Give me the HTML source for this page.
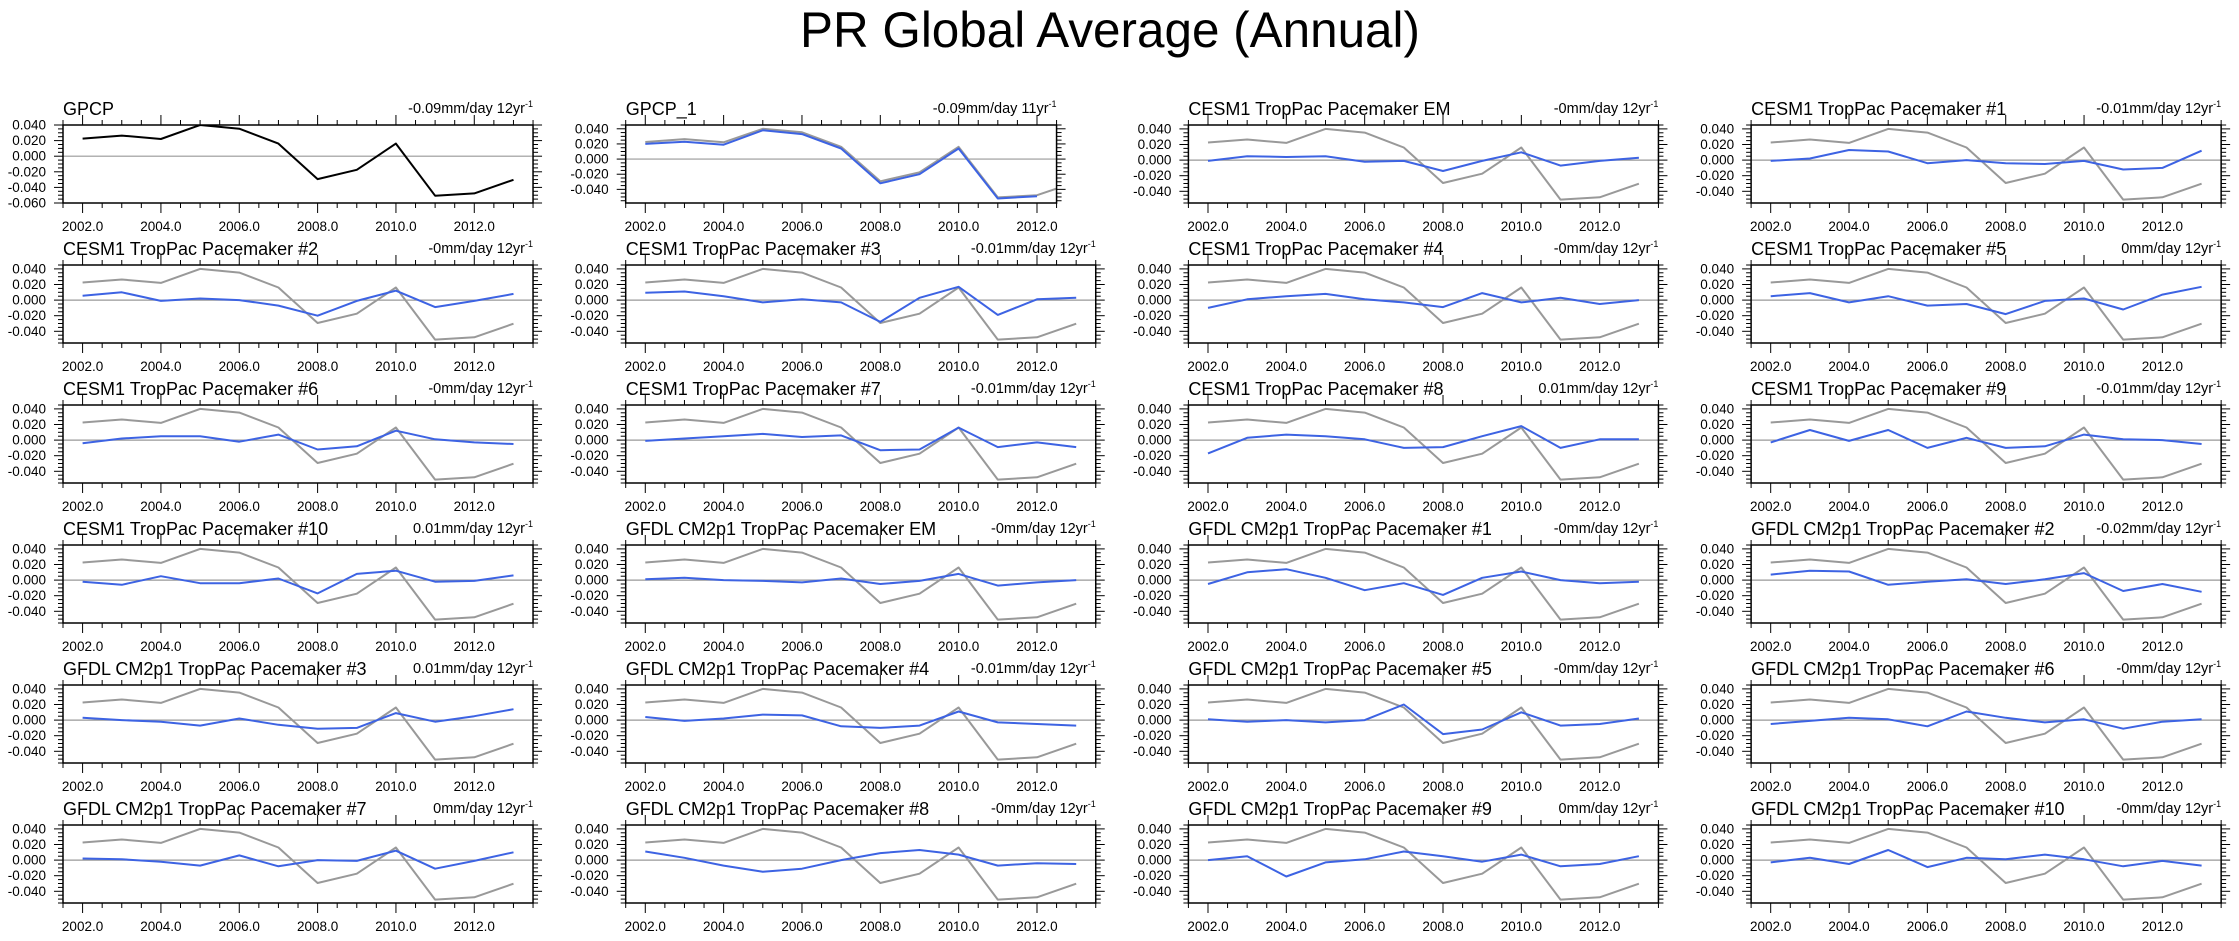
<!DOCTYPE html>
<html><head><meta charset="utf-8"><title>PR Global Average (Annual)</title>
<style>
html,body{margin:0;padding:0;background:#fff;}
svg{display:block;font-family:"Liberation Sans",Arial,sans-serif;}
</style></head>
<body>
<svg id="chart" width="2239" height="941" viewBox="0 0 2239 941" xmlns="http://www.w3.org/2000/svg">
<text x="1110" y="47" font-size="50" text-anchor="middle" textLength="620" lengthAdjust="spacingAndGlyphs">PR Global Average (Annual)</text>
<g id="panels"></g>
</svg>
<script>
const years = [2002,2003,2004,2005,2006,2007,2008,2009,2010,2011,2012,2013];
const obsSeries = [0.0226,0.0264,0.0221,0.0400,0.0353,0.0162,-0.0294,-0.0174,0.0162,-0.0506,-0.0477,-0.0302];
const panelTitles = [
 "GPCP","GPCP_1","CESM1 TropPac Pacemaker EM","CESM1 TropPac Pacemaker #1",
 "CESM1 TropPac Pacemaker #2","CESM1 TropPac Pacemaker #3","CESM1 TropPac Pacemaker #4","CESM1 TropPac Pacemaker #5",
 "CESM1 TropPac Pacemaker #6","CESM1 TropPac Pacemaker #7","CESM1 TropPac Pacemaker #8","CESM1 TropPac Pacemaker #9",
 "CESM1 TropPac Pacemaker #10","GFDL CM2p1 TropPac Pacemaker EM","GFDL CM2p1 TropPac Pacemaker #1","GFDL CM2p1 TropPac Pacemaker #2",
 "GFDL CM2p1 TropPac Pacemaker #3","GFDL CM2p1 TropPac Pacemaker #4","GFDL CM2p1 TropPac Pacemaker #5","GFDL CM2p1 TropPac Pacemaker #6",
 "GFDL CM2p1 TropPac Pacemaker #7","GFDL CM2p1 TropPac Pacemaker #8","GFDL CM2p1 TropPac Pacemaker #9","GFDL CM2p1 TropPac Pacemaker #10"];
const trendLabels = ["-0.09mm/day 12yr","-0.09mm/day 11yr","-0mm/day 12yr","-0.01mm/day 12yr",
 "-0mm/day 12yr","-0.01mm/day 12yr","-0mm/day 12yr","0mm/day 12yr",
 "-0mm/day 12yr","-0.01mm/day 12yr","0.01mm/day 12yr","-0.01mm/day 12yr",
 "0.01mm/day 12yr","-0mm/day 12yr","-0mm/day 12yr","-0.02mm/day 12yr",
 "0.01mm/day 12yr","-0.01mm/day 12yr","-0mm/day 12yr","-0mm/day 12yr",
 "0mm/day 12yr","-0mm/day 12yr","0mm/day 12yr","-0mm/day 12yr"];
const gpcp1Series = [0.020,0.023,0.019,0.038,0.033,0.014,-0.032,-0.020,0.014,-0.052,-0.049];
const cesmEM = [-0.001,0.005,0.004,0.005,-0.002,-0.001,-0.014,-0.001,0.010,-0.007,-0.001,0.003];
const cesm1 = [-0.001,0.002,0.013,0.011,-0.004,0,-0.004,-0.005,-0.001,-0.012,-0.010,0.012];
const cesm2 = [0.0056,0.010,-0.001,0.002,0,-0.007,-0.020,-0.001,0.012,-0.009,-0.001,0.008];
const cesm3 = [0.0094,0.011,0.005,-0.003,0.001,-0.003,-0.028,0.003,0.017,-0.019,0.001,0.003];
const cesm4 = [-0.010,0.001,0.005,0.008,0.001,-0.003,-0.009,0.009,-0.003,0.003,-0.005,0];
const cesm5 = [0.005,0.009,-0.003,0.005,-0.007,-0.005,-0.018,-0.001,0.002,-0.012,0.007,0.017];
const cesm6 = [-0.004,0.002,0.005,0.005,-0.002,0.007,-0.012,-0.008,0.012,0.001,-0.003,-0.005];
const cesm7 = [-0.001,0.002,0.005,0.008,0.004,0.006,-0.013,-0.012,0.016,-0.009,-0.003,-0.009];
const cesm8 = [-0.017,0.003,0.007,0.005,0.001,-0.010,-0.009,0.005,0.018,-0.010,0.001,0.001];
const cesm9 = [-0.003,0.013,-0.001,0.013,-0.010,0.003,-0.010,-0.008,0.007,0.001,0,-0.005];
const cesm10 = [-0.002,-0.006,0.005,-0.004,-0.004,0.002,-0.017,0.008,0.012,-0.002,-0.001,0.006];
const gfdlEM = [0.001,0.003,0,-0.001,-0.003,0.002,-0.005,-0.001,0.008,-0.007,-0.003,0];
const gfdl1 = [-0.005,0.010,0.014,0.003,-0.013,-0.004,-0.019,0.003,0.011,0,-0.004,-0.002];
const gfdl2 = [0.007,0.012,0.011,-0.006,-0.002,0.001,-0.005,0.001,0.009,-0.014,-0.005,-0.015];
const gfdl3 = [0.003,0,-0.002,-0.007,0.002,-0.006,-0.011,-0.010,0.009,-0.002,0.005,0.014];
const gfdl4 = [0.004,-0.001,0.002,0.007,0.006,-0.008,-0.010,-0.007,0.011,-0.003,-0.005,-0.007];
const gfdl5 = [0.001,-0.002,0,-0.003,0,0.020,-0.018,-0.012,0.010,-0.007,-0.005,0.002];
const gfdl6 = [-0.005,-0.001,0.003,0.001,-0.008,0.011,0.003,-0.003,0.001,-0.011,-0.002,0.001];
const gfdl7 = [0.002,0.001,-0.002,-0.007,0.006,-0.008,0,-0.001,0.012,-0.011,-0.001,0.010];
const gfdl8 = [0.011,0.003,-0.007,-0.015,-0.011,0,0.009,0.013,0.007,-0.007,-0.004,-0.005];
const gfdl9 = [0,0.005,-0.021,-0.003,0.001,0.011,0.005,-0.002,0.007,-0.008,-0.005,0.005];
const gfdl10 = [-0.003,0.003,-0.005,0.013,-0.009,0.003,0.001,0.007,0.001,-0.008,-0.001,-0.007];
const modelSeries = [null,gpcp1Series,cesmEM,cesm1,cesm2,cesm3,cesm4,cesm5,cesm6,cesm7,cesm8,cesm9,cesm10,gfdlEM,gfdl1,gfdl2,gfdl3,gfdl4,gfdl5,gfdl6,gfdl7,gfdl8,gfdl9,gfdl10];
const xTickLabels = ["2002.0","2004.0","2006.0","2008.0","2010.0","2012.0"];
const yTickLabelsObs = ["0.040","0.020","0.000","-0.020","-0.040","-0.060"];
const yTickLabels = ["0.040","0.020","0.000","-0.020","-0.040"];

const NS="http://www.w3.org/2000/svg";
const root=document.getElementById('panels');
function mk(tag,attrs,parent){const e=document.createElementNS(NS,tag);for(const k in attrs)e.setAttribute(k,attrs[k]);(parent||root).appendChild(e);return e;}

for(let i=0;i<24;i++){
  const col=i%4,row=Math.floor(i/4);
  const L=63+562.7*col, T=125+140*row, H=78;
  const xmin=2001.5, xmax=(i===1)?2012.5:2013.5;
  const W=(xmax-xmin)*39.17;
  let ymin=-0.055,ymax=0.045;
  if(i===0){ymin=-0.06;ymax=0.04;}
  if(i===1){ymin=-0.058;ymax=0.045;}
  const X=v=>L+(v-xmin)/(xmax-xmin)*W;
  const Y=v=>T+(ymax-v)/(ymax-ymin)*H;
  const g=mk('g',{});
  
  
  const cid='clip'+i;
  const cp=mk('clipPath',{id:cid},g);mk('rect',{x:L,y:T,width:W,height:H},cp);
  const t=mk('text',{x:L,y:T-10,'font-size':18},g);t.textContent=panelTitles[i];
  
  
  const tr=mk('text',{x:L+W,y:T-12,'font-size':14.5,'text-anchor':'end'},g);
  
  
  tr.appendChild(document.createTextNode(trendLabels[i]));
  const sp=mk('tspan',{'font-size':9,dy:-6},tr);sp.textContent='-1';
  const z=mk('line',{x1:L,x2:L+W,y1:Y(0),y2:Y(0),stroke:'#999','stroke-width':1.2},g);
  
  
  for(let v=xmin;v<=xmax+1e-6;v+=0.5){
    const major=Math.abs(v/2-Math.round(v/2))<1e-6 && v>=2002;
    const len=major?10:5;
    mk('line',{x1:X(v),x2:X(v),y1:T,y2:T-len,stroke:'#000','stroke-width':1},g);
    mk('line',{x1:X(v),x2:X(v),y1:T+H,y2:T+H+len,stroke:'#000','stroke-width':1},g);
  }
  xTickLabels.forEach((lab,k)=>{
    const v=2002+2*k; if(v>xmax) return;
    const e=mk('text',{x:X(v),y:T+H+28,'font-size':13.5,'text-anchor':'middle'},g);e.textContent=lab;
    
    
  });
  const startMinor=Math.ceil(ymin/0.005-1e-6),endMinor=Math.floor(ymax/0.005+1e-6);
  for(let k=startMinor;k<=endMinor;k++){
    const v=k*0.005;const major=(k%4===0);const len=major?9:5;
    mk('line',{x1:L,x2:L-len,y1:Y(v),y2:Y(v),stroke:'#000','stroke-width':1},g);
    mk('line',{x1:L+W,x2:L+W+len,y1:Y(v),y2:Y(v),stroke:'#000','stroke-width':1},g);
  }
  const labs=(i===0)?yTickLabelsObs:yTickLabels;
  labs.forEach(lab=>{
    const v=parseFloat(lab);
    const e=mk('text',{x:L-17,y:Y(v)+4.5,'font-size':13.5,'text-anchor':'end'},g);e.textContent=lab;
    
    
  });
  const pts=(arr)=>arr.map((v,k)=>X(years[k]).toFixed(1)+','+Y(v).toFixed(1)).join(' ');
  const obs=mk('polyline',{points:pts(obsSeries),fill:'none',stroke:(i===0)?'#000':'#999','stroke-width':2,'clip-path':'url(#'+cid+')','stroke-linejoin':'round'},g);
  
  
  if(modelSeries[i]){
    const m=mk('polyline',{points:pts(modelSeries[i]),fill:'none',stroke:'#3d63e3','stroke-width':2,'clip-path':'url(#'+cid+')','stroke-linejoin':'round'},g);
    
    
  }
  const fr=mk('rect',{x:L,y:T,width:W,height:H,fill:'none',stroke:'#000','stroke-width':1.5},g);
  
  
}
</script>
</body></html>
